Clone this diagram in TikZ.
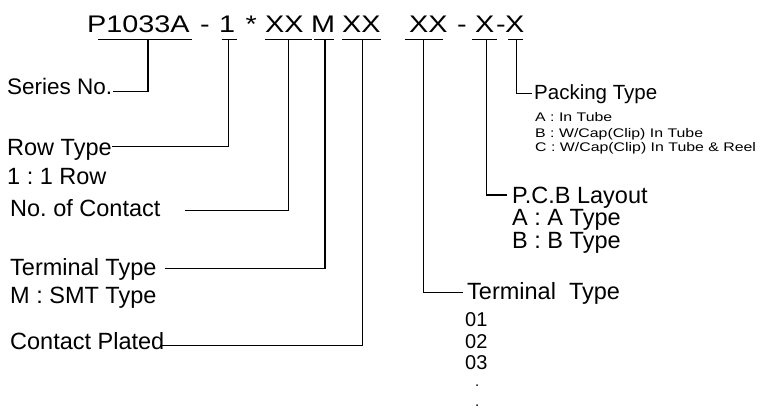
\documentclass[tikz,border=0pt]{standalone}
\usepackage{fontspec}
\setmainfont{Liberation Sans}
\begin{document}
\frenchspacing
\begin{tikzpicture}[x=1pt,y=-1pt,
  code/.style={inner sep=0pt, anchor=base west, font=\fontsize{24}{24}\selectfont},
  lbl/.style={inner sep=0pt, anchor=base west, font=\fontsize{23.5}{26}\selectfont},
  small/.style={inner sep=0pt, anchor=base west, font=\fontsize{12.5}{14}\selectfont},
  num/.style={inner sep=0pt, anchor=base west, font=\fontsize{20}{20}\selectfont},
  dotl/.style={inner sep=0pt, anchor=base west, font=\fontsize{15}{15}\selectfont},
  ln/.style={line width=1.3pt},
  ul/.style={line width=1.2pt}]
\useasboundingbox (0,0) rectangle (768,419);
\newcommand{\wide}[1]{\scalebox{1.2}[1]{#1}}
\newcommand{\swide}[1]{\scalebox{1.27}[1]{#1}}
% top code line
\node[code] (cP)  at (87,33)    {\wide{P1033A}};
\node[code] (cd1) at (200,33)   {\wide{-}};
\node[code] (cR)  at (219,33)   {\wide{1}};
\node[code] (cs)  at (245.5,33) {\wide{*}};
\node[code] (cN)  at (265,33)   {\wide{XX}};
\node[code] (cM)  at (311,33)   {\wide{M}};
\node[code] (cC)  at (342,33)   {\wide{XX}};
\node[code] (cT)  at (409,33)   {\wide{XX}};
\node[code] (cd2) at (457,33)   {\wide{-}};
\node[code] (cL)  at (475,33)   {\wide{X}};
\node[code] (cd3) at (496,33)   {\wide{-}};
\node[code] (cK)  at (505,33)   {\wide{X}};
% underlines
\draw[ul] (98,39.3) -- (192,39.3);
\draw[ul] (221.7,39.3) -- (236.7,39.3);
\draw[ul] (265,39.3) -- (311.7,39.3);
\draw[ul] (314,39.3) -- (334,39.3);
\draw[ul] (342,39.3) -- (381,39.3);
\draw[ul] (405,39.3) -- (443,39.3);
\draw[ul] (472,39.3) -- (497,39.3);
\draw[ul] (508,39.3) -- (523,39.3);
% tap points
\coordinate (tP) at (148,39.3);
\coordinate (tR) at (228.5,39.3);
\coordinate (tN) at (288.3,39.3);
\coordinate (tM) at (325,39.3);
\coordinate (tC) at (362.3,39.3);
\coordinate (tT) at (423.3,39.3);
\coordinate (tL) at (486.7,39.3);
\coordinate (tK) at (516.7,39.3);
% left labels
\node[lbl, font=\fontsize{22.5}{26}\selectfont] (series)  at (7,95) {Series No.};
\node[lbl] (rowtype) at (7,156)     {Row Type};
\node[lbl] (rowval)  at (7,185)     {1 : 1 Row};
\node[lbl] (contact) at (10,216.7)  {No. of Contact};
\node[lbl] (term)    at (10,275.7)  {Terminal Type};
\node[lbl] (termval) at (10,304)    {M : SMT Type};
\node[lbl] (plated)  at (10,350)    {Contact Plated};
\coordinate (eSeries)  at (113,91.7);
\coordinate (eRow)     at (112,146.7);
\coordinate (eContact) at (185,210.7);
\coordinate (eTerm)    at (165,268.3);
\coordinate (ePlated)  at (162,345.7);
\draw[ln] (tP) |- (eSeries);
\draw[ln] (tR) |- (eRow);
\draw[ln] (tN) |- (eContact);
\draw[ln] (tM) |- (eTerm);
\draw[ln] (tC) |- (ePlated);
% right labels
\node[inner sep=0pt, anchor=base west, font=\fontsize{20.5}{22}\selectfont] (pack) at (534,100) {Packing Type};
\node[small] (packA) at (535,122)   {\swide{A : In Tube}};
\node[small] (packB) at (535,137.5) {\swide{B : W/Cap(Clip) In Tube}};
\node[small] (packC) at (535,152)   {\swide{C : W/Cap(Clip) In Tube \& Reel}};
\node[lbl] (pcb)  at (512,203.5) {P.C.B Layout};
\node[lbl] (pcbA) at (512,226)   {A : A Type};
\node[lbl] (pcbB) at (512,248.5) {B : B Type};
\node[lbl] (tt)   at (467,299.3) {Terminal\ \ Type};
\node[num] (v01) at (465,326.7) {01};
\node[num] (v02) at (465,348.3) {02};
\node[num] (v03) at (465,370)   {03};
\node[dotl] (vd1) at (475,386) {.};
\node[dotl] (vd2) at (475,406) {.};
\coordinate (ePack) at (531.7,93.3);
\coordinate (ePcb)  at (507,195);
\coordinate (eTT)   at (463,292.7);
\draw[ln] (tK) |- (ePack);
\draw[ln] (tL) |- (ePcb);
\draw[ln] (tT) |- (eTT);
\end{tikzpicture}
\end{document}
